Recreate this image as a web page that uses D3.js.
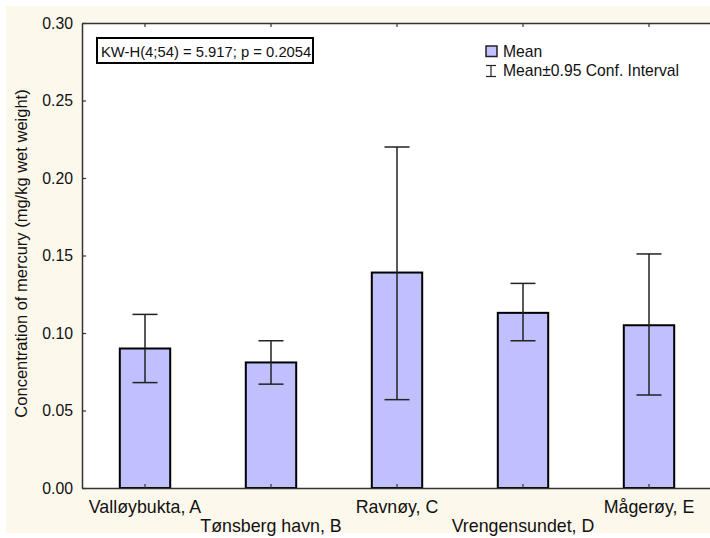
<!DOCTYPE html>
<html>
<head>
<meta charset="utf-8">
<script src="https://cdn.jsdelivr.net/npm/d3@7"></script>
<style>
  body { margin: 0; background: #fff; }
  svg { display: block; font-family: "Liberation Sans", Arial, sans-serif; }
</style>
</head>
<body>
<div id="chart"></div>
<script>
const categories = ["Valløybukta, A", "Tønsberg havn, B", "Ravnøy, C", "Vrengensundet, D", "Mågerøy, E"];
const means = [0.090, 0.081, 0.139, 0.113, 0.105];
const ciLow = [0.068, 0.067, 0.057, 0.095, 0.060];
const ciHigh = [0.112, 0.095, 0.220, 0.132, 0.151];
const yTicks = [0.00, 0.05, 0.10, 0.15, 0.20, 0.25, 0.30];
const statsText = "KW-H(4;54) = 5.917; p = 0.2054";
const yTitle = "Concentration of mercury (mg/kg wet weight)";

const width = 710, height = 538;
const plot = { left: 82, top: 23, right: 712, bottom: 488 };

const svg = d3.select("#chart").append("svg")
  .attr("width", width)
  .attr("height", height);

// cream page background + white plot area
svg.append("rect").attr("x", 6).attr("y", 6).attr("width", width - 6).attr("height", height - 11)
  .attr("fill", "#fdf8ec");
svg.append("rect").attr("x", plot.left).attr("y", plot.top)
  .attr("width", plot.right - plot.left).attr("height", plot.bottom - plot.top)
  .attr("fill", "#fff");

const x = d3.scaleBand().domain(categories).range([plot.left, plot.right]).padding(0);
const y = d3.scaleLinear().domain([0, 0.30]).range([plot.bottom, plot.top]);
const barW = x.bandwidth() * 0.4;

// bars
svg.append("g").selectAll("rect")
  .data(categories)
  .join("rect")
  .attr("x", d => x(d) + x.bandwidth() / 2 - barW / 2)
  .attr("y", (d, i) => y(means[i]))
  .attr("width", barW)
  .attr("height", (d, i) => y(0) - y(means[i]))
  .attr("fill", "#c0c0ff")
  .attr("stroke", "#000")
  .attr("stroke-width", 2);

// error bars
const capW = 25;
const err = svg.append("g").attr("stroke", "#222").attr("stroke-width", 1.5);
categories.forEach((c, i) => {
  const cx = x(c) + x.bandwidth() / 2;
  err.append("line").attr("x1", cx).attr("x2", cx).attr("y1", y(ciLow[i])).attr("y2", y(ciHigh[i]));
  err.append("line").attr("x1", cx - capW / 2).attr("x2", cx + capW / 2).attr("y1", y(ciHigh[i])).attr("y2", y(ciHigh[i]));
  err.append("line").attr("x1", cx - capW / 2).attr("x2", cx + capW / 2).attr("y1", y(ciLow[i])).attr("y2", y(ciLow[i]));
});

// axes
const yAxis = svg.append("g")
  .attr("transform", `translate(${plot.left},0)`)
  .call(d3.axisLeft(y).tickValues(yTicks).tickFormat(d3.format(".2f")).tickSizeInner(-4).tickSizeOuter(0).tickPadding(9));
yAxis.selectAll("text").attr("font-size", 15.8).attr("fill", "#111");

const xAxis = svg.append("g")
  .attr("transform", `translate(0,${plot.bottom})`)
  .call(d3.axisBottom(x).tickSizeInner(-4).tickSizeOuter(0).tickFormat(""));

const topAxis = svg.append("g")
  .attr("transform", `translate(0,${plot.top})`)
  .call(d3.axisTop(x).tickSizeInner(-4).tickSizeOuter(0).tickFormat(""));

[yAxis, xAxis, topAxis].forEach(g => {
  g.select(".domain").attr("stroke", "#333").attr("stroke-width", 1.5);
  g.selectAll(".tick line").attr("stroke", "#333").attr("stroke-width", 1.2);
});

// staggered category labels
svg.append("g").selectAll("text")
  .data(categories)
  .join("text")
  .attr("x", d => x(d) + x.bandwidth() / 2)
  .attr("y", (d, i) => i % 2 === 0 ? 513 : 532)
  .attr("text-anchor", "middle")
  .attr("font-size", 17.8)
  .attr("fill", "#111")
  .text(d => d);

// y title
svg.append("text")
  .attr("transform", `translate(27,${(plot.top + plot.bottom) / 2 - 2}) rotate(-90)`)
  .attr("text-anchor", "middle")
  .attr("font-size", 16.5)
  .attr("fill", "#111")
  .text(yTitle);

// stats box
svg.append("rect").attr("x", 97).attr("y", 38).attr("width", 216).attr("height", 25)
  .attr("fill", "#fff").attr("stroke", "#000").attr("stroke-width", 2);
svg.append("text").attr("x", 101).attr("y", 56.5).attr("font-size", 14.8).attr("fill", "#111").text(statsText);

// legend
const lg = svg.append("g");
lg.append("rect").attr("x", 486).attr("y", 46).attr("width", 11).attr("height", 10.5)
  .attr("fill", "#c0c0ff").attr("stroke", "#222").attr("stroke-width", 1.5);
lg.append("text").attr("x", 503).attr("y", 57).attr("font-size", 15.7).attr("fill", "#111").text("Mean");
lg.append("line").attr("x1", 491).attr("x2", 491).attr("y1", 65.5).attr("y2", 76.5).attr("stroke", "#222").attr("stroke-width", 1.2);
lg.append("line").attr("x1", 486).attr("x2", 496).attr("y1", 65.5).attr("y2", 65.5).attr("stroke", "#222").attr("stroke-width", 1.2);
lg.append("line").attr("x1", 486).attr("x2", 496).attr("y1", 76.5).attr("y2", 76.5).attr("stroke", "#222").attr("stroke-width", 1.2);
lg.append("text").attr("x", 503).attr("y", 76).attr("font-size", 15.7).attr("fill", "#111").text("Mean±0.95 Conf. Interval");
</script>
</body>
</html>
